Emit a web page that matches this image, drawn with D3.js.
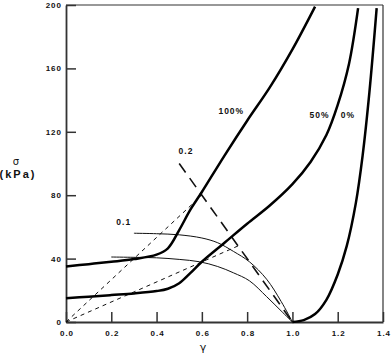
<!DOCTYPE html>
<html>
<head>
<meta charset="utf-8">
<script src="https://cdn.jsdelivr.net/npm/d3@7"></script>
<style>
  html, body { margin: 0; padding: 0; background: #fff; }
  svg { display: block; }
  .tick text { font-family: "Liberation Sans", Arial, sans-serif; font-weight: bold; font-size: 8px; letter-spacing: 1px; fill: #111; }
</style>
</head>
<body>
<svg id="chart" width="391" height="361"></svg>
<script>
// ---- data ----
const xTicks = [0.0, 0.2, 0.4, 0.6, 0.8, 1.0, 1.2, 1.4];
const yTicks = [0, 40, 80, 120, 160, 200];

const gamma100 = [0, 0.1, 0.2, 0.3, 0.4, 0.45, 0.5, 0.55, 0.6, 0.7, 0.8, 0.9, 1.0, 1.1];
const sigma100 = [35, 36.5, 38, 39.7, 42.5, 46.5, 58, 71, 82, 105, 127, 148, 172, 199];

const gamma50 = [0, 0.1, 0.2, 0.3, 0.4, 0.45, 0.5, 0.55, 0.6, 0.7, 0.8, 0.9, 1.0, 1.08, 1.15, 1.2, 1.25, 1.29];
const sigma50 = [15, 16, 17, 18, 19.5, 21, 24.5, 31, 38, 50, 62, 73.5, 87, 101, 118, 137, 163, 198];

const gamma0 = [1.0, 1.05, 1.1, 1.15, 1.2, 1.24, 1.28, 1.31, 1.34, 1.372];
const sigma0 = [0, 1.2, 5, 14, 30, 48, 75, 105, 145, 198];

const gammaThinA = [0.3, 0.4, 0.5, 0.6, 0.67, 0.74, 0.81, 0.886, 0.95, 1.0];
const sigmaThinA = [56, 55.7, 55, 53, 50, 44.5, 38, 27, 13, 0];

const gammaThinB = [0.2, 0.3, 0.4, 0.5, 0.59, 0.67, 0.74, 0.81, 0.886, 0.95, 1.0];
const sigmaThinB = [41, 40.8, 40.5, 39.5, 38, 35, 31, 26, 16, 7, 0];

const gammaDashUp = [0, 0.6];
const sigmaDashUp = [0, 80];
const gammaDashLow = [0, 0.76];
const sigmaDashLow = [0, 48];
const gammaLong = [0.5, 1.0];
const sigmaLong = [100, 0];

const labels = [
  { text: "100%", g: 0.73, s: 131 },
  { text: "50%", g: 1.12, s: 129 },
  { text: "0%", g: 1.245, s: 129 },
  { text: "0.1", g: 0.255, s: 61 },
  { text: "0.2", g: 0.53, s: 106 }
];

// ---- layout ----
const svg = d3.select("#chart");
const x = d3.scaleLinear().domain([0, 1.4]).range([66, 383]);
const y = d3.scaleLinear().domain([0, 200]).range([322, 5]);

const zip = (gs, ss) => gs.map((g, i) => [g, ss[i]]);
const line = d3.line().x(d => x(d[0])).y(d => y(d[1])).curve(d3.curveCatmullRom.alpha(0.5));
const straight = d3.line().x(d => x(d[0])).y(d => y(d[1]));

// frame top & right
svg.append("line").attr("x1", x(0)).attr("x2", x(1.4)).attr("y1", y(200)).attr("y2", y(200))
  .attr("stroke", "#333").attr("stroke-width", 1.2);
svg.append("line").attr("x1", x(1.4)).attr("x2", x(1.4)).attr("y1", y(200)).attr("y2", y(0))
  .attr("stroke", "#333").attr("stroke-width", 1.2);

// axes
const xAxis = d3.axisBottom(x).tickValues(xTicks).tickFormat(d3.format(".1f")).tickSize(-10).tickPadding(8).tickSizeOuter(0);
const yAxis = d3.axisLeft(y).tickValues(yTicks).tickFormat(d3.format("d")).tickSize(-10).tickPadding(4).tickSizeOuter(0);

const gx = svg.append("g").attr("transform", `translate(0,${y(0)})`).call(xAxis);
const gy = svg.append("g").attr("transform", `translate(${x(0)},0)`).call(yAxis);
[gx, gy].forEach(g => {
  g.select(".domain").attr("stroke", "#333").attr("stroke-width", 1.8);
  g.selectAll(".tick line").attr("stroke", "#333").attr("stroke-width", 1.5);
});
gx.selectAll(".tick text").attr("dx", "0.5px");

// thin curves
[[gammaThinA, sigmaThinA], [gammaThinB, sigmaThinB]].forEach(([g, s]) => {
  svg.append("path").attr("d", line(zip(g, s))).attr("fill", "none")
    .attr("stroke", "#111").attr("stroke-width", 1);
});

// short dashed lines
[[gammaDashUp, sigmaDashUp], [gammaDashLow, sigmaDashLow]].forEach(([g, s]) => {
  svg.append("path").attr("d", straight(zip(g, s))).attr("fill", "none")
    .attr("stroke", "#111").attr("stroke-width", 1).attr("stroke-dasharray", "4,4");
});

// long dashed line
svg.append("path").attr("d", straight(zip(gammaLong, sigmaLong))).attr("fill", "none")
  .attr("stroke", "#111").attr("stroke-width", 1.6).attr("stroke-dasharray", "11,7");

// thick curves
[[gamma100, sigma100], [gamma50, sigma50], [gamma0, sigma0]].forEach(([g, s]) => {
  svg.append("path").attr("d", line(zip(g, s))).attr("fill", "none")
    .attr("stroke", "#000").attr("stroke-width", 2.5).attr("stroke-linejoin", "round");
});

// curve labels
svg.selectAll("text.lbl").data(labels).enter().append("text")
  .attr("class", "lbl")
  .attr("x", d => x(d.g)).attr("y", d => y(d.s))
  .attr("text-anchor", "middle")
  .attr("font-family", "Liberation Sans, Arial, sans-serif")
  .attr("font-weight", "bold").attr("font-size", "8.5px").attr("letter-spacing", "1px")
  .attr("fill", "#111")
  .text(d => d.text);

// axis titles
svg.append("text").attr("x", 16).attr("y", 165).attr("text-anchor", "middle")
  .attr("font-family", "DejaVu Sans, sans-serif").attr("font-size", "10px").attr("fill", "#111").text("σ");
svg.append("text").attr("x", 18).attr("y", 178).attr("text-anchor", "middle")
  .attr("font-family", "Liberation Sans, Arial, sans-serif").attr("font-weight", "bold")
  .attr("font-size", "11px").attr("letter-spacing", "2px").attr("fill", "#111").text("(kPa)");
svg.append("text").attr("x", 203).attr("y", 351).attr("text-anchor", "middle")
  .attr("font-family", "DejaVu Sans, sans-serif").attr("font-size", "11px").attr("fill", "#111").text("γ");
</script>
</body>
</html>
